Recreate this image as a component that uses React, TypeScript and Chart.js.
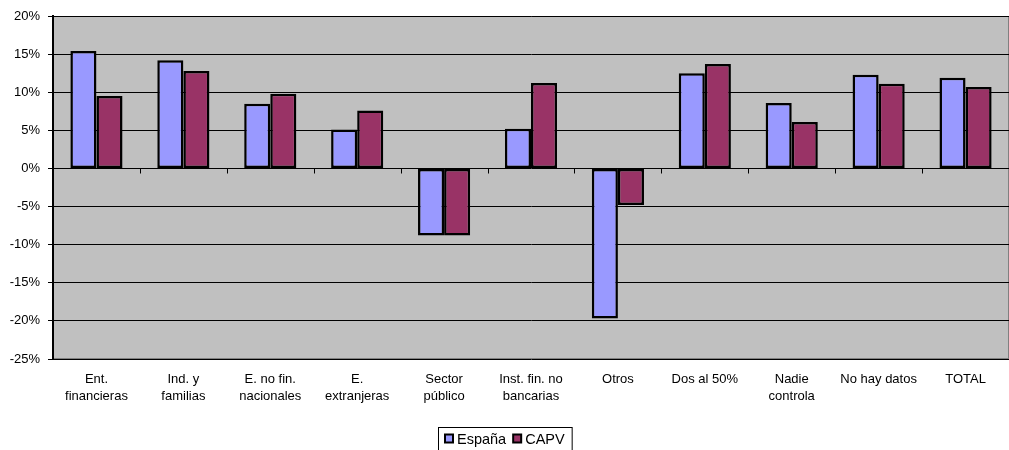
import React, { useEffect, useRef } from "react";
import { Chart, registerables } from "chart.js";

Chart.register(...registerables);

const categories: (string | string[])[] = [
  ["Ent.", "financieras"],
  ["Ind. y", "familias"],
  ["E. no fin.", "nacionales"],
  ["E.", "extranjeras"],
  ["Sector", "público"],
  ["Inst. fin. no", "bancarias"],
  "Otros",
  "Dos al 50%",
  ["Nadie", "controla"],
  "No hay datos",
  "TOTAL",
];
const espana = [15.4, 14.2, 8.5, 5.1, -8.8, 5.2, -19.7, 12.5, 8.6, 12.3, 11.9];
const capv = [9.5, 12.8, 9.8, 7.6, -8.8, 11.2, -4.8, 13.7, 6.1, 11.1, 10.7];
const seriesLabels = ["España", "CAPV"];
const seriesColors = ["#9999FF", "#993366"];
const yMin = -25;
const yMax = 20;
const yStep = 5;

const FONT = "'Liberation Sans', Arial, sans-serif";

const bgPlugin = {
  id: "plotBg",
  beforeDraw(chart: any) {
    const { ctx, chartArea } = chart;
    ctx.save();
    ctx.fillStyle = "#C0C0C0";
    ctx.fillRect(chartArea.left, chartArea.top, chartArea.right - chartArea.left, chartArea.bottom - chartArea.top);
    ctx.strokeStyle = "#808080";
    ctx.lineWidth = 1;
    ctx.strokeRect(chartArea.left + 0.5, chartArea.top + 0.5, chartArea.right - chartArea.left - 1, chartArea.bottom - chartArea.top - 1);
    ctx.restore();
  },
  afterDatasetsDraw(chart: any) {
    const { ctx } = chart;
    const x = chart.scales.x;
    const y = chart.scales.y;
    const y0 = Math.round(y.getPixelForValue(0)) + 0.5;
    ctx.save();
    ctx.strokeStyle = "#000";
    ctx.lineWidth = 1;
    ctx.beginPath();
    for (let i = 1; i < categories.length; i++) {
      const px = Math.round(x.getPixelForValue(i - 0.5)) + 0.5;
      ctx.moveTo(px, y0);
      ctx.lineTo(px, y0 + 5);
    }
    ctx.stroke();
    ctx.restore();
  },
  afterDraw(chart: any) {
    const { ctx } = chart;
    ctx.save();
    ctx.font = `14.5px ${FONT}`;
    const box = 8;
    const gap = 4;
    const itemGap = 7;
    const pad = 7;
    const widths = seriesLabels.map((l) => ctx.measureText(l).width);
    const total = widths.reduce((a, w) => a + box + gap + w, 0) + itemGap * (seriesLabels.length - 1) + pad * 2;
    const left = Math.round(chart.width / 2 - total / 2);
    const top = 427;
    const h = 23;
    ctx.strokeStyle = "#000";
    ctx.lineWidth = 1;
    ctx.strokeRect(left + 0.5, top + 0.5, total, h);
    let cx = left + pad;
    const cy = top + h / 2 + 1;
    ctx.textBaseline = "middle";
    seriesLabels.forEach((l, i) => {
      ctx.fillStyle = seriesColors[i];
      ctx.fillRect(cx, cy - box / 2 - 1, box, box);
      ctx.lineWidth = 2;
      ctx.strokeRect(cx, cy - box / 2 - 1, box, box);
      cx += box + gap;
      ctx.fillStyle = "#000";
      ctx.fillText(l, cx, cy);
      cx += widths[i] + itemGap;
    });
    ctx.restore();
  },
};

export default function App() {
  const ref = useRef<HTMLCanvasElement>(null);
  useEffect(() => {
    if (!ref.current) return;
    const chart = new Chart(ref.current, {
      type: "bar",
      data: {
        labels: categories,
        datasets: [
          {
            label: seriesLabels[0],
            data: espana,
            backgroundColor: seriesColors[0],
            borderColor: "#000",
            borderWidth: 2.5,
            borderSkipped: false,
          },
          {
            label: seriesLabels[1],
            data: capv,
            backgroundColor: seriesColors[1],
            borderColor: "#000",
            borderWidth: 2.5,
            borderSkipped: false,
          },
        ],
      },
      options: {
        animation: false,
        responsive: false,
        maintainAspectRatio: false,
        datasets: { bar: { categoryPercentage: 0.6, barPercentage: 1 } },
        layout: { padding: { top: 16, right: 0, bottom: 23, left: 0 } },
        plugins: { legend: { display: false }, tooltip: { enabled: false } },
        scales: {
          x: {
            grid: { display: false, drawTicks: false },
            border: { display: false },
            ticks: {
              color: "#000",
              font: { family: FONT, size: 13, lineHeight: 1.3 },
              padding: 12,
              maxRotation: 0,
              autoSkip: false,
            },
            afterFit(s: any) {
              s.height = 68;
            },
          },
          y: {
            min: yMin,
            max: yMax,
            ticks: {
              stepSize: yStep,
              color: "#000",
              font: { family: FONT, size: 13 },
              padding: 8,
              callback: (v: any) => `${v}%`,
            },
            grid: { color: "#000", lineWidth: 1, tickLength: 5 },
            border: { color: "#000", width: 2 },
            afterFit(s: any) {
              s.width = 53;
            },
          },
        },
      },
      plugins: [bgPlugin],
    });
    return () => chart.destroy();
  }, []);
  return (
    <div style={{ position: "fixed", left: 0, top: 0, width: 1009, height: 450, background: "#fff" }}>
      <canvas ref={ref} width={1009} height={450} style={{ width: 1009, height: 450 }} />
    </div>
  );
}
